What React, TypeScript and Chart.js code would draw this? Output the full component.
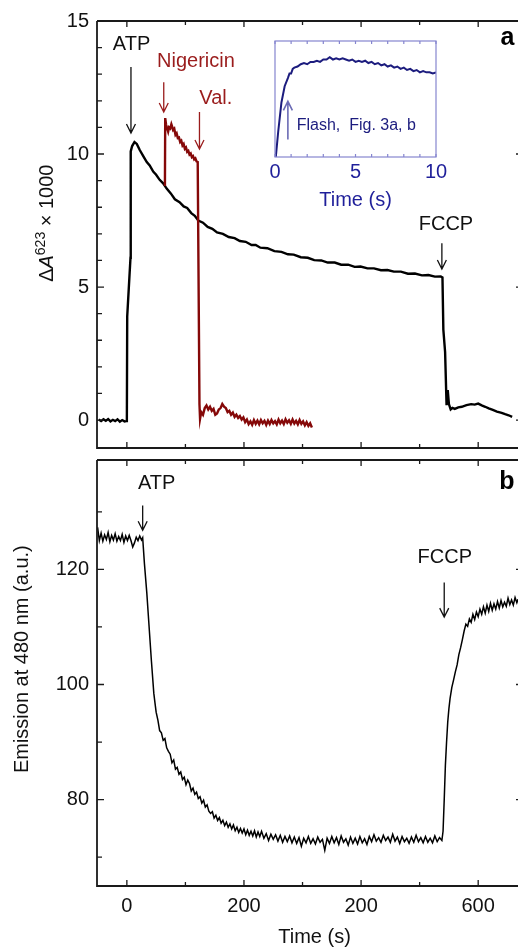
import React, { useEffect, useRef } from "react";
import { Chart, registerables } from "chart.js";
Chart.register(...registerables);

const FONT = '"Liberation Sans", Arial, Helvetica, sans-serif';

// ---------- shared x axis ----------
const X_MIN = -51;
const X_MAX = 668;
const X_TICK_VALUES = [0, 200, 400, 600];
const X_TICK_LABELS = ["0", "200", "200", "600"];
const X_MINOR_TICKS = [100, 300, 500];

// ---------- panel a ----------
const TOP_Y_MIN = -1.05;
const TOP_Y_MAX = 15;
const TOP_Y_TICKS = [0, 5, 10, 15];
const TOP_Y_MINOR = [1, 2, 3, 4, 6, 7, 8, 9, 11, 12, 13, 14];

const topBlackTimes = [
  -48, -44, -40, -36, -32, -28, -24, -20, -16, -12, -8, -4, -1,
  0, 0.6, 6.2, 6.6, 9, 13, 17, 22, 28, 34, 39, 45, 50, 56, 62, 68, 75, 82, 90, 97,
  103, 110, 116, 122, 130, 138, 146, 154, 164, 174, 184, 193, 203, 213, 220, 228,
  240, 252, 264, 275, 285, 297, 309, 320, 332, 343, 355, 366, 378, 389, 399, 411,
  422, 434, 445, 456, 468, 480, 492, 504, 515, 526, 536, 539,
  540.5, 543.5, 546, 548, 550, 553, 556, 560, 566, 572, 580, 588, 594, 600, 606,
  612, 618, 625, 632, 640, 646, 652, 658,
];
const topBlackValues = [
  0.02, -0.04, 0.03, -0.03, 0.04, -0.05, 0.01, -0.04, 0.03, -0.06, 0.0, -0.05, -0.04,
  -0.03, 3.9, 6.1, 10.1, 10.3, 10.45, 10.38, 10.15, 9.92, 9.7, 9.57, 9.34, 9.22, 9.03, 8.9, 8.7, 8.52, 8.3, 8.19, 8.03,
  7.97, 7.78, 7.68, 7.5, 7.42, 7.26, 7.19, 7.05, 7.0, 6.88, 6.84, 6.73, 6.7, 6.58, 6.58, 6.48,
  6.46, 6.35, 6.32, 6.23, 6.22, 6.12, 6.1, 6.01, 6.0, 5.92, 5.92, 5.84, 5.84, 5.76, 5.77, 5.7,
  5.7, 5.63, 5.64, 5.58, 5.58, 5.5, 5.51, 5.44, 5.45, 5.39, 5.4, 5.36,
  3.4, 2.56, 0.56, 1.13, 0.6, 0.4, 0.46, 0.42, 0.48, 0.5, 0.56, 0.6, 0.58, 0.62, 0.55,
  0.5, 0.44, 0.38, 0.32, 0.27, 0.22, 0.18, 0.12,
];

const topRedTimes = [
  65, 65.5, 67, 69, 70.5, 72, 74, 76, 77.5, 79, 81, 83, 85, 87, 89, 91, 93, 95, 97,
  99, 101, 103, 105, 107, 109, 111, 113, 115, 117, 119, 121,
  124, 125, 127, 130, 133, 136, 139, 142, 145, 148, 151, 154, 157, 160, 163, 166,
  169, 172, 175, 178, 181, 184, 187, 190, 193, 196, 199, 202, 205, 208, 211, 214,
  217, 220, 223, 226, 229, 232, 235, 238, 241, 244, 247, 250, 253, 256, 259, 262,
  265, 268, 271, 274, 277, 280, 283, 286, 289, 292, 295, 298, 301, 304, 307, 310,
  313, 316,
];
const topRedValues = [
  8.8, 11.35, 11.1, 10.95, 10.84, 11.0, 10.96, 11.12, 11.02, 10.9, 10.95, 10.72, 10.78,
  10.6, 10.62, 10.45, 10.5, 10.32, 10.38, 10.2, 10.25, 10.08, 10.12, 9.98, 10.02, 9.88,
  9.92, 9.8, 9.84, 9.72, 9.7,
  0.6, 0.05, 0.3, 0.2, 0.45, 0.55, 0.4, 0.5, 0.35, 0.42, 0.2, 0.25, 0.4, 0.45, 0.6, 0.5,
  0.45, 0.3, 0.35, 0.2, 0.28, 0.12, 0.2, 0.08, 0.15, 0.02, 0.1, -0.08, 0.02, -0.15, -0.05, -0.18,
  0.0, -0.14, -0.02, -0.16, 0.0, -0.12, -0.03, -0.18, -0.02, -0.15, 0.0, -0.12, -0.04, -0.16, 0.02, -0.12,
  -0.02, -0.15, 0.03, -0.1, -0.01, -0.14, 0.02, -0.13, -0.03, -0.16, 0.0, -0.14, -0.05, -0.2, -0.08, -0.22,
  -0.12, -0.28,
];

// ---------- inset ----------
const INSET_TICKS = [0, 5, 10];
const INSET_MINOR = [1, 2, 3, 4, 6, 7, 8, 9];
const insetTimes = [
  0.05, 0.2, 0.4, 0.6, 0.8, 0.9, 1.0, 1.1, 1.2, 1.4, 1.6, 1.8, 2.0, 2.2, 2.4, 2.6, 2.8,
  3.0, 3.2, 3.4, 3.5, 3.6, 3.8, 4.0, 4.2, 4.4, 4.6, 4.8, 5.0, 5.2, 5.4, 5.6, 5.8, 6.0,
  6.2, 6.4, 6.6, 6.8, 7.0, 7.2, 7.4, 7.6, 7.8, 8.0, 8.2, 8.4, 8.6, 8.8, 9.0, 9.2, 9.4,
  9.6, 9.8, 10.0,
];
const insetValues = [
  0.0, 0.22, 0.47, 0.61, 0.68, 0.72, 0.72, 0.76, 0.77, 0.78, 0.8, 0.81, 0.8, 0.82, 0.82,
  0.83, 0.82, 0.84, 0.84, 0.86, 0.85, 0.84, 0.85, 0.84, 0.85, 0.84, 0.83, 0.84, 0.82, 0.83,
  0.82, 0.83, 0.81, 0.82, 0.8, 0.81, 0.79, 0.8, 0.78, 0.79, 0.77, 0.78, 0.76, 0.77, 0.75,
  0.76, 0.74, 0.75, 0.73, 0.74, 0.73, 0.73, 0.72, 0.73,
];

// ---------- panel b ----------
const BOT_Y_MIN = 65;
const BOT_Y_MAX = 139;
const BOT_Y_TICKS = [80, 100, 120];
const BOT_Y_MINOR = [70, 90, 110, 130];

const bottomTimes = [
  -50, -47, -44, -41, -38, -35, -32, -29, -26, -23, -20, -17, -14, -11, -8, -5, -2, 1, 4,
  7, 10, 13, 16, 19, 22, 25, 27,
  30, 34, 38, 42, 46, 48, 50, 53, 56, 59, 62, 65, 68, 71, 74, 77, 80, 83, 86, 89, 92, 95,
  98, 101, 104, 107, 110, 113, 116, 119, 122, 125, 128, 131, 134, 137, 140, 143, 146, 149,
  152, 155, 158, 161, 164, 167, 170, 173, 176, 179, 182, 185, 188, 191, 194, 197, 200,
  203, 206, 209, 212, 215, 218, 221, 224, 227, 230, 234, 238, 242, 246, 250, 254, 258,
  262, 266, 270, 274, 278, 282, 286, 290, 294, 298, 302, 306, 310, 314, 318, 322, 326,
  330, 334, 338, 342, 346, 350, 354, 358, 362, 366, 370, 374, 378, 382, 386, 390, 394,
  398, 402, 406, 410, 414, 418, 422, 426, 430, 434, 438, 442, 446, 450, 454, 458, 462,
  466, 470, 474, 478, 482, 486, 490, 494, 498, 502, 506, 510, 514, 518, 522, 526, 530,
  534, 538,
  540, 542, 544, 546, 548, 550, 552, 555, 558, 561, 564, 567, 570, 573, 576, 579, 582,
  585, 588, 591, 594, 597, 600, 603, 606, 609, 612, 615, 618, 621, 624, 627, 630, 633,
  636, 639, 642, 645, 648, 651, 654, 657, 660, 663, 666, 668,
];
const bottomValues = [
  127.3, 125.0, 126.3, 124.9, 126.0, 125.2, 126.4, 124.8, 125.9, 125.1, 126.2, 124.9,
  125.7, 125.0, 126.1, 124.7, 125.8, 125.0, 125.9, 125.0, 123.9, 124.6, 125.6, 125.0,
  125.8, 125.1, 125.5,
  121.0, 116.0, 110.0, 104.0, 98.5, 96.8, 95.2, 93.8, 92.0, 91.6, 90.3, 90.6, 89.0, 88.4,
  87.9, 86.4, 86.9, 85.3, 85.6, 84.4, 84.8, 83.5, 83.9, 82.6, 83.4, 82.8, 81.5, 82.0,
  80.9, 81.3, 80.2, 80.5, 79.4, 79.9, 78.7, 79.1, 78.0, 77.6, 77.9, 76.8, 77.3, 76.4,
  76.9, 75.9, 76.4, 75.5, 76.1, 75.2, 75.8, 74.9, 75.6, 74.6, 75.2, 74.3, 75.0, 74.2,
  74.9, 73.9, 74.7, 73.8, 74.5, 73.7, 74.6, 73.5, 74.4, 73.6, 74.5, 73.3, 74.1, 72.9,
  74.0, 73.1, 73.9, 72.8, 73.8, 72.6, 73.6, 72.7, 73.7, 72.5, 73.5, 72.4, 73.4, 71.9,
  73.3, 72.5, 73.6, 72.4, 73.2, 72.3, 73.5, 72.6, 73.1, 71.2, 73.3, 72.4, 73.6, 72.5,
  73.4, 72.2, 73.7, 72.6, 73.2, 72.1, 73.5, 72.4, 73.3, 72.3, 73.6, 72.5, 73.2, 72.2,
  73.6, 72.7, 73.9, 72.8, 73.4, 72.6, 73.8, 72.9, 73.5, 72.6, 74.0, 72.8, 73.5, 72.4,
  73.6, 72.7, 73.3, 72.4, 73.5, 72.6, 73.8, 72.7, 73.4, 72.5, 73.6, 72.6, 73.3, 72.5,
  73.7, 72.7, 73.4, 72.9,
  74.5, 80.0, 86.0, 90.0, 93.5, 95.8, 97.6, 99.5, 100.8, 102.2, 103.4, 105.2, 106.4,
  107.8, 109.3, 110.5, 110.1, 111.4, 110.8, 112.2, 111.3, 112.6, 111.8, 113.1, 112.2,
  113.5, 112.4, 113.8, 112.7, 114.1, 112.9, 114.0, 113.1, 114.4, 113.3, 114.6, 113.5,
  114.3, 113.6, 115.0, 113.9, 114.7, 113.8, 115.1, 114.2, 114.8,
];

const pts = (xs: number[], ys: number[]) => xs.map((x, i) => ({ x, y: ys[i] }));

const AXIS = "#1a1a1a";
const RED_LINE = "#850808";
const RED_TEXT = "#9a1c1c";
const NAVY = "#1c1c7e";
const INSET_BORDER = "#8585cf";
const INSET_TEXT = "#1f1f9a";

function arrow(ctx: CanvasRenderingContext2D, x: number, yFrom: number, yTo: number, color: string, w = 1.3) {
  const dir = yTo > yFrom ? 1 : -1;
  ctx.save();
  ctx.strokeStyle = color;
  ctx.lineWidth = w;
  ctx.beginPath();
  ctx.moveTo(x, yFrom);
  ctx.lineTo(x, yTo);
  ctx.moveTo(x - 4.5, yTo - dir * 9);
  ctx.lineTo(x, yTo);
  ctx.lineTo(x + 4.5, yTo - dir * 9);
  ctx.stroke();
  ctx.restore();
}

function text(ctx: CanvasRenderingContext2D, s: string, x: number, y: number, color: string, font: string, align: CanvasTextAlign = "center") {
  ctx.save();
  ctx.fillStyle = color;
  ctx.font = font;
  ctx.textAlign = align;
  ctx.textBaseline = "middle";
  ctx.fillText(s, x, y);
  ctx.restore();
}

function drawFrame(chart: any, yMajor: number[], yMinor: number[], xLabels: boolean) {
  const { ctx, chartArea: a, scales } = chart;
  const xs = scales.x;
  const ys = scales.y;
  ctx.save();
  ctx.strokeStyle = AXIS;
  ctx.lineWidth = 1.8;
  ctx.beginPath();
  ctx.moveTo(a.left, a.top);
  ctx.lineTo(a.right, a.top);
  ctx.moveTo(a.left, a.top);
  ctx.lineTo(a.left, a.bottom);
  ctx.lineTo(a.right, a.bottom);
  ctx.stroke();
  ctx.lineWidth = 1.3;
  ctx.beginPath();
  for (const v of yMajor) {
    const y = ys.getPixelForValue(v);
    ctx.moveTo(a.left, y);
    ctx.lineTo(a.left + 7, y);
    ctx.moveTo(a.right, y);
    ctx.lineTo(a.right - 2, y);
  }
  for (const v of yMinor) {
    const y = ys.getPixelForValue(v);
    ctx.moveTo(a.left, y);
    ctx.lineTo(a.left + 5, y);
  }
  for (const v of X_TICK_VALUES) {
    const x = xs.getPixelForValue(v);
    ctx.moveTo(x, a.bottom);
    ctx.lineTo(x, a.bottom - 6);
    ctx.moveTo(x, a.top);
    ctx.lineTo(x, a.top + 6);
  }
  for (const v of X_MINOR_TICKS) {
    const x = xs.getPixelForValue(v);
    ctx.moveTo(x, a.bottom);
    ctx.lineTo(x, a.bottom - 4);
    ctx.moveTo(x, a.top);
    ctx.lineTo(x, a.top + 4);
  }
  ctx.stroke();
  ctx.restore();
  for (const v of yMajor) {
    text(ctx, String(v), a.left - 8, ys.getPixelForValue(v), "#111", `20px ${FONT}`, "right");
  }
  if (xLabels) {
    X_TICK_VALUES.forEach((v, i) => {
      text(ctx, X_TICK_LABELS[i], xs.getPixelForValue(v), a.bottom + 20, "#111", `20px ${FONT}`);
    });
    text(ctx, "Time (s)", (a.left + a.right) / 2 + 7, a.bottom + 51, "#111", `20px ${FONT}`);
  }
}

export default function App() {
  const topRef = useRef<HTMLCanvasElement>(null);
  const insetRef = useRef<HTMLCanvasElement>(null);
  const botRef = useRef<HTMLCanvasElement>(null);

  useEffect(() => {
    const topPlugin = {
      id: "topFrame",
      afterDraw(chart: any) {
        const { ctx, chartArea: a, scales } = chart;
        const X = (t: number) => scales.x.getPixelForValue(t);
        const Y = (v: number) => scales.y.getPixelForValue(v);
        drawFrame(chart, TOP_Y_TICKS, TOP_Y_MINOR, false);
        // y title with italic A and superscript
        ctx.save();
        ctx.translate(a.left - 50, (Y(7.4)));
        ctx.rotate(-Math.PI / 2);
        ctx.fillStyle = "#111";
        ctx.textBaseline = "middle";
        ctx.textAlign = "left";
        const parts = [
          { t: "\u0394", f: `20px ${FONT}`, dy: 0 },
          { t: "A", f: `italic 20px ${FONT}`, dy: 0 },
          { t: "623", f: `14px ${FONT}`, dy: -6 },
          { t: " \u00d7 1000", f: `20px ${FONT}`, dy: 0 },
        ];
        let total = 0;
        for (const p of parts) { ctx.font = p.f; total += ctx.measureText(p.t).width; }
        let cx = -total / 2;
        for (const p of parts) { ctx.font = p.f; ctx.fillText(p.t, cx, p.dy); cx += ctx.measureText(p.t).width; }
        ctx.restore();
        // annotations
        text(ctx, "ATP", X(8), Y(14.1), "#111", `20px ${FONT}`);
        arrow(ctx, X(7), Y(13.27), Y(10.79), "#111");
        text(ctx, "Nigericin", X(118), Y(13.46), RED_TEXT, `20px ${FONT}`);
        arrow(ctx, X(63), Y(12.7), Y(11.58), RED_TEXT);
        text(ctx, "Val.", X(152), Y(12.1), RED_TEXT, `20px ${FONT}`);
        arrow(ctx, X(124), Y(11.58), Y(10.19), RED_TEXT);
        text(ctx, "FCCP", X(545), Y(7.37), "#111", `20px ${FONT}`);
        arrow(ctx, X(538), Y(6.65), Y(5.68), "#111");
        text(ctx, "a", X(662), Y(14.36), "#000", `bold 25px ${FONT}`, "right");
      },
    };
    const top = new Chart(topRef.current!, {
      type: "line",
      data: {
        datasets: [
          { data: pts(topRedTimes, topRedValues), borderColor: RED_LINE, borderWidth: 2.4, pointRadius: 0 },
          { data: pts(topBlackTimes, topBlackValues), borderColor: "#000", borderWidth: 2.4, pointRadius: 0 },
        ],
      },
      options: {
        animation: false,
        responsive: false,
        maintainAspectRatio: false,
        layout: { padding: { left: 97, top: 21, right: 0, bottom: 7 } },
        plugins: { legend: { display: false }, tooltip: { enabled: false } },
        scales: {
          x: { type: "linear", min: X_MIN, max: X_MAX, display: false },
          y: { type: "linear", min: TOP_Y_MIN, max: TOP_Y_MAX, display: false },
        },
      },
      plugins: [topPlugin],
    } as any);

    const insetPlugin = {
      id: "insetFrame",
      afterDraw(chart: any) {
        const { ctx, chartArea: a, scales } = chart;
        const X = (t: number) => scales.x.getPixelForValue(t);
        const Y = (v: number) => scales.y.getPixelForValue(v);
        ctx.save();
        ctx.strokeStyle = INSET_BORDER;
        ctx.lineWidth = 1.2;
        ctx.strokeRect(a.left, a.top, a.right - a.left, a.bottom - a.top);
        ctx.beginPath();
        for (const v of [...INSET_TICKS, ...INSET_MINOR]) {
          const x = X(v);
          ctx.moveTo(x, a.bottom);
          ctx.lineTo(x, a.bottom - 3);
          ctx.moveTo(x, a.top);
          ctx.lineTo(x, a.top + 3);
        }
        ctx.stroke();
        ctx.restore();
        for (const v of INSET_TICKS) {
          text(ctx, String(v), X(v), a.bottom + 15, INSET_TEXT, `20px ${FONT}`);
        }
        text(ctx, "Time (s)", (a.left + a.right) / 2, a.bottom + 43, INSET_TEXT, `20px ${FONT}`);
        text(ctx, "Flash,  Fig. 3a, b", X(1.35), Y(0.27), NAVY, `16px ${FONT}`, "left");
        arrow(ctx, X(0.8), Y(0.15), Y(0.48), "#6b6bb5", 1.6);
      },
    };
    const inset = new Chart(insetRef.current!, {
      type: "line",
      data: {
        datasets: [
          { data: pts(insetTimes, insetValues), borderColor: NAVY, borderWidth: 2, pointRadius: 0 },
        ],
      },
      options: {
        animation: false,
        responsive: false,
        maintainAspectRatio: false,
        layout: { padding: { left: 25, top: 11, right: 24, bottom: 58 } },
        plugins: { legend: { display: false }, tooltip: { enabled: false } },
        scales: {
          x: { type: "linear", min: 0, max: 10, display: false },
          y: { type: "linear", min: 0, max: 1, display: false },
        },
      },
      plugins: [insetPlugin],
    } as any);

    const botPlugin = {
      id: "botFrame",
      afterDraw(chart: any) {
        const { ctx, chartArea: a, scales } = chart;
        const X = (t: number) => scales.x.getPixelForValue(t);
        const Y = (v: number) => scales.y.getPixelForValue(v);
        drawFrame(chart, BOT_Y_TICKS, BOT_Y_MINOR, true);
        ctx.save();
        ctx.translate(a.left - 75, Y(104.4));
        ctx.rotate(-Math.PI / 2);
        ctx.fillStyle = "#111";
        ctx.font = `20px ${FONT}`;
        ctx.textAlign = "center";
        ctx.textBaseline = "middle";
        ctx.fillText("Emission at 480 nm (a.u.)", 0, 0);
        ctx.restore();
        text(ctx, "ATP", X(51), Y(134.9), "#111", `20px ${FONT}`);
        arrow(ctx, X(27), Y(131.1), Y(126.8), "#111");
        text(ctx, "FCCP", X(543), Y(122.1), "#111", `20px ${FONT}`);
        arrow(ctx, X(542), Y(117.7), Y(111.7), "#111");
        text(ctx, "b", X(662), Y(135.1), "#000", `bold 25px ${FONT}`, "right");
      },
    };
    const bot = new Chart(botRef.current!, {
      type: "line",
      data: {
        datasets: [
          { data: pts(bottomTimes, bottomValues), borderColor: "#000", borderWidth: 1.5, pointRadius: 0 },
        ],
      },
      options: {
        animation: false,
        responsive: false,
        maintainAspectRatio: false,
        layout: { padding: { left: 97, top: 5, right: 0, bottom: 62 } },
        plugins: { legend: { display: false }, tooltip: { enabled: false } },
        scales: {
          x: { type: "linear", min: X_MIN, max: X_MAX, display: false },
          y: { type: "linear", min: BOT_Y_MIN, max: BOT_Y_MAX, display: false },
        },
      },
      plugins: [botPlugin],
    } as any);

    return () => {
      top.destroy();
      inset.destroy();
      bot.destroy();
    };
  }, []);

  return (
    <div style={{ position: "absolute", left: 0, top: 0, width: 518, height: 948, background: "#fff", overflow: "hidden" }}>
      <canvas ref={topRef} width={518} height={455} style={{ position: "absolute", left: 0, top: 0, display: "block" }} />
      <canvas ref={botRef} width={518} height={493} style={{ position: "absolute", left: 0, top: 455, display: "block" }} />
      <canvas ref={insetRef} width={210} height={185} style={{ position: "absolute", left: 250, top: 30, display: "block" }} />
    </div>
  );
}
